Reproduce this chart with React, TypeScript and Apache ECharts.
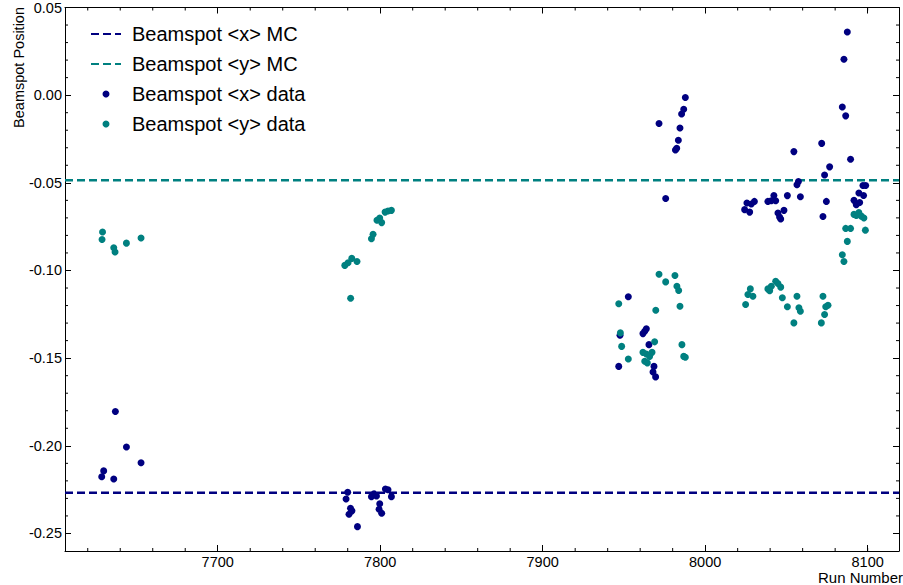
import React, { useEffect, useRef } from "react";
import * as echarts from "echarts";

const FONT = '"Liberation Sans", Arial, Helvetica, sans-serif';
const NAVY = "#000080";
const TEAL = "#008080";

// axis ranges
const X_MIN = 7606;
const X_MAX = 8119.3;
const Y_MIN = -0.26;
const Y_MAX = 0.05;

// tick values
const xMajorTicks = [7700, 7800, 7900, 8000, 8100];
const xMinorTicks = [7620, 7640, 7660, 7680, 7720, 7740, 7760, 7780, 7820, 7840, 7860, 7880, 7920, 7940, 7960, 7980, 8020, 8040, 8060, 8080, 8100];
const yMajorTicks = [-0.25, -0.2, -0.15, -0.1, -0.05, 0, 0.05];
const yMinorTicks = [-0.24, -0.23, -0.22, -0.21, -0.19, -0.18, -0.17, -0.16, -0.14, -0.13, -0.12, -0.11, -0.09, -0.08, -0.07, -0.06, -0.04, -0.03, -0.02, -0.01, 0.01, 0.02, 0.03, 0.04];

// MC reference values
const mcX = -0.2268;
const mcY = -0.0485;

// Beamspot <x> data
const xRuns = [
  7637.0, 7643.8, 7652.8, 7629.8, 7628.6, 7636.0,
  7780.0, 7779.0, 7781.7, 7782.6, 7780.8, 7786.0, 7794.6, 7796.2, 7797.7, 7799.7, 7799.3, 7800.9, 7803.2, 7804.8, 7806.9,
  7987.8, 7986.8, 7985.5, 7984.5, 7983.5, 7982.5, 7981.7, 7971.6, 7975.7, 7952.7, 7947.6, 7961.7, 7962.8, 7963.8, 7965.4, 7946.8, 7968.5, 7967.9, 7969.5,
  8087.5, 8085.4, 8084.4, 8086.5, 8071.7, 8054.6, 8089.5, 8076.6, 8073.5, 8057.4, 8056.5, 8097.1, 8098.8, 8094.6, 8097.5, 8050.6, 8058.6, 8042.3, 8038.6, 8040.7, 8043.4, 8025.7, 8030.3, 8028.4, 8024.3, 8027.4, 8074.6, 8091.6, 8093.0, 8095.1, 8044.8, 8045.8, 8048.5, 8046.5, 8072.5,
];
const xPos = [
  -0.1804, -0.2007, -0.2097, -0.2143, -0.2177, -0.2189,
  -0.2265, -0.2303, -0.2356, -0.2371, -0.2390, -0.2461, -0.2290, -0.2274, -0.2286, -0.2331, -0.2362, -0.2385, -0.2246, -0.2251, -0.2290,
  -0.0013, -0.0080, -0.0107, -0.0187, -0.0257, -0.0303, -0.0313, -0.0162, -0.0589, -0.1150, -0.1369, -0.1360, -0.1347, -0.1333, -0.1423, -0.1547, -0.1547, -0.1579, -0.1607,
  0.0360, 0.0205, -0.0068, -0.0118, -0.0275, -0.0322, -0.0366, -0.0409, -0.0455, -0.0492, -0.0511, -0.0515, -0.0515, -0.0558, -0.0572, -0.0573, -0.0579, -0.0572, -0.0606, -0.0602, -0.0602, -0.0615, -0.0606, -0.0621, -0.0653, -0.0667, -0.0606, -0.0600, -0.0625, -0.0612, -0.0672, -0.0695, -0.0657, -0.0706, -0.0692,
];

// Beamspot <y> data
const yRuns = [
  7629.1, 7628.8, 7636.0, 7636.8, 7643.8, 7652.8,
  7778.2, 7780.2, 7782.5, 7785.7, 7781.8, 7794.6, 7795.6, 7798.0, 7799.7, 7800.9, 7803.0, 7804.8, 7806.9,
  7971.6, 7975.7, 7981.4, 7982.6, 7983.7, 7946.8, 7969.6, 7984.5, 7947.8, 7948.6, 7952.7, 7961.7, 7963.8, 7967.3, 7968.9, 7962.8, 7964.4, 7965.8, 7985.7, 7986.8, 7987.8,
  8091.6, 8093.0, 8094.6, 8096.1, 8097.7, 8086.5, 8089.5, 8098.6, 8087.5, 8084.4, 8085.4, 8027.8, 8026.3, 8029.4, 8024.9, 8038.6, 8040.7, 8043.4, 8044.8, 8046.5, 8039.7, 8047.5, 8050.6, 8056.5, 8057.7, 8058.6, 8054.6, 8072.5, 8075.6, 8074.2, 8073.5, 8071.5,
];
const yPos = [
  -0.0781, -0.0823, -0.0870, -0.0895, -0.0844, -0.0815,
  -0.0971, -0.0956, -0.0931, -0.0949, -0.1158, -0.0819, -0.0794, -0.0713, -0.0701, -0.0727, -0.0667, -0.0661, -0.0657,
  -0.1021, -0.1065, -0.1029, -0.1090, -0.1114, -0.1190, -0.1227, -0.1204, -0.1356, -0.1433, -0.1505, -0.1467, -0.1476, -0.1467, -0.1407, -0.1518, -0.1527, -0.1490, -0.1423, -0.1490, -0.1495,
  -0.0680, -0.0686, -0.0670, -0.0690, -0.0701, -0.0760, -0.0760, -0.0770, -0.0834, -0.0910, -0.0949, -0.1105, -0.1137, -0.1147, -0.1194, -0.1105, -0.1090, -0.1061, -0.1074, -0.1095, -0.1116, -0.1156, -0.1207, -0.1147, -0.1213, -0.1233, -0.1299, -0.1147, -0.1198, -0.1207, -0.1251, -0.1299,
];

const NAME_XMC = "Beamspot <x> MC";
const NAME_YMC = "Beamspot <y> MC";
const NAME_XD = "Beamspot <x> data";
const NAME_YD = "Beamspot <y> data";

function makeXAxis(position: "bottom" | "top", showLabel: boolean) {
  return {
    type: "value",
    position,
    min: X_MIN,
    max: X_MAX,
    axisLine: { show: true, onZero: false, lineStyle: { color: "#000", width: 1 } },
    axisTick: { show: true, inside: true, length: 6, customValues: xMajorTicks, lineStyle: { color: "#000", width: 1 } },
    axisLabel: {
      show: showLabel,
      customValues: xMajorTicks,
      margin: 3,
      fontSize: 14.5,
      fontFamily: FONT,
      color: "#000",
      formatter: (v: number) => String(Math.round(v)),
    },
    splitLine: { show: false },
  };
}

function makeYAxis(position: "left" | "right", showLabel: boolean) {
  return {
    type: "value",
    position,
    min: Y_MIN,
    max: Y_MAX,
    axisLine: { show: true, onZero: false, lineStyle: { color: "#000", width: 1 } },
    axisTick: { show: true, inside: true, length: 6, customValues: yMajorTicks, lineStyle: { color: "#000", width: 1 } },
    axisLabel: {
      show: showLabel,
      customValues: yMajorTicks,
      margin: 3,
      fontSize: 14.5,
      fontFamily: FONT,
      color: "#000",
      showMaxLabel: true,
      showMinLabel: true,
      formatter: (v: number) => (Math.abs(v) < 1e-9 ? "0.00" : v.toFixed(2)),
    },
    splitLine: { show: false },
  };
}

export default function App() {
  const ref = useRef<HTMLDivElement>(null);

  useEffect(() => {
    if (!ref.current) return;
    const chart = echarts.init(ref.current, undefined, { renderer: "svg" });

    const minorData: number[][] = [
      ...xMinorTicks.map((v) => [v, Y_MIN, 0]),
      ...yMinorTicks.map((v) => [X_MIN, v, 1]),
    ];

    const hiddenSymbol = { color: "rgba(0,0,0,0)", opacity: 0, borderWidth: 0 };

    const option: any = {
      animation: false,
      backgroundColor: "#fff",
      grid: { left: 65, right: 4, top: 7, bottom: 34, containLabel: false },
      xAxis: [makeXAxis("bottom", true), makeXAxis("top", false)],
      yAxis: [makeYAxis("left", true), makeYAxis("right", false)],
      legend: {
        orient: "vertical",
        left: 85,
        top: 19,
        itemWidth: 30,
        itemHeight: 7,
        itemGap: 10,
        selectedMode: false,
        data: [
          { name: NAME_XMC, itemStyle: hiddenSymbol },
          { name: NAME_YMC, itemStyle: hiddenSymbol },
          { name: NAME_XD },
          { name: NAME_YD },
        ],
        textStyle: { fontSize: 20, fontFamily: FONT, color: "#000", padding: [0, 0, 0, 6] },
      },
      graphic: [
        {
          type: "text",
          x: 19,
          y: 7,
          rotation: Math.PI / 2,
          style: {
            text: "Beamspot Position",
            fill: "#000",
            font: `14.5px ${FONT}`,
            align: "right",
            verticalAlign: "middle",
          },
        },
        {
          type: "text",
          x: 903,
          y: 577,
          style: {
            text: "Run Number",
            fill: "#000",
            font: `15px ${FONT}`,
            align: "right",
            verticalAlign: "middle",
          },
        },
      ],
      series: [
        {
          name: NAME_XMC,
          type: "line",
          xAxisIndex: 0,
          yAxisIndex: 0,
          data: [[X_MIN, mcX], [X_MAX, mcX]],
          symbol: "none",
          silent: true,
          color: NAVY,
          lineStyle: { color: NAVY, width: 2.5, type: [8, 4] },
          z: 1,
        },
        {
          name: NAME_YMC,
          type: "line",
          xAxisIndex: 0,
          yAxisIndex: 0,
          data: [[X_MIN, mcY], [X_MAX, mcY]],
          symbol: "none",
          silent: true,
          color: TEAL,
          lineStyle: { color: TEAL, width: 2.5, type: [8, 4] },
          z: 1,
        },
        {
          name: NAME_XD,
          type: "scatter",
          xAxisIndex: 0,
          yAxisIndex: 0,
          data: xRuns.map((r, i) => [r, xPos[i]]),
          symbol: "circle",
          symbolSize: 7,
          color: NAVY,
          itemStyle: { color: NAVY, opacity: 1 },
          z: 3,
        },
        {
          name: NAME_YD,
          type: "scatter",
          xAxisIndex: 0,
          yAxisIndex: 0,
          data: yRuns.map((r, i) => [r, yPos[i]]),
          symbol: "circle",
          symbolSize: 7,
          color: TEAL,
          itemStyle: { color: TEAL, opacity: 1 },
          z: 3,
        },
        {
          name: "minorTicks",
          type: "custom",
          xAxisIndex: 0,
          yAxisIndex: 0,
          silent: true,
          clip: false,
          data: minorData,
          encode: { x: 0, y: 1 },
          renderItem: (params: any, api: any) => {
            const kind = api.value(2);
            const st = { stroke: "#000", lineWidth: 1 };
            if (kind === 0) {
              const v = api.value(0);
              const b = api.coord([v, Y_MIN]);
              const t = api.coord([v, Y_MAX]);
              return {
                type: "group",
                children: [
                  { type: "line", shape: { x1: b[0], y1: b[1], x2: b[0], y2: b[1] - 3 }, style: st },
                  { type: "line", shape: { x1: t[0], y1: t[1], x2: t[0], y2: t[1] + 3 }, style: st },
                ],
              };
            }
            const v = api.value(1);
            const l = api.coord([X_MIN, v]);
            const r = api.coord([X_MAX, v]);
            return {
              type: "group",
              children: [
                { type: "line", shape: { x1: l[0], y1: l[1], x2: l[0] + 3, y2: l[1] }, style: st },
                { type: "line", shape: { x1: r[0], y1: r[1], x2: r[0] - 3, y2: r[1] }, style: st },
              ],
            };
          },
          z: 5,
        },
      ],
    };

    chart.setOption(option);
    return () => {
      chart.dispose();
    };
  }, []);

  return (
    <div
      ref={ref}
      style={{ position: "fixed", left: 0, top: 0, width: 903, height: 585, background: "#fff" }}
    />
  );
}
